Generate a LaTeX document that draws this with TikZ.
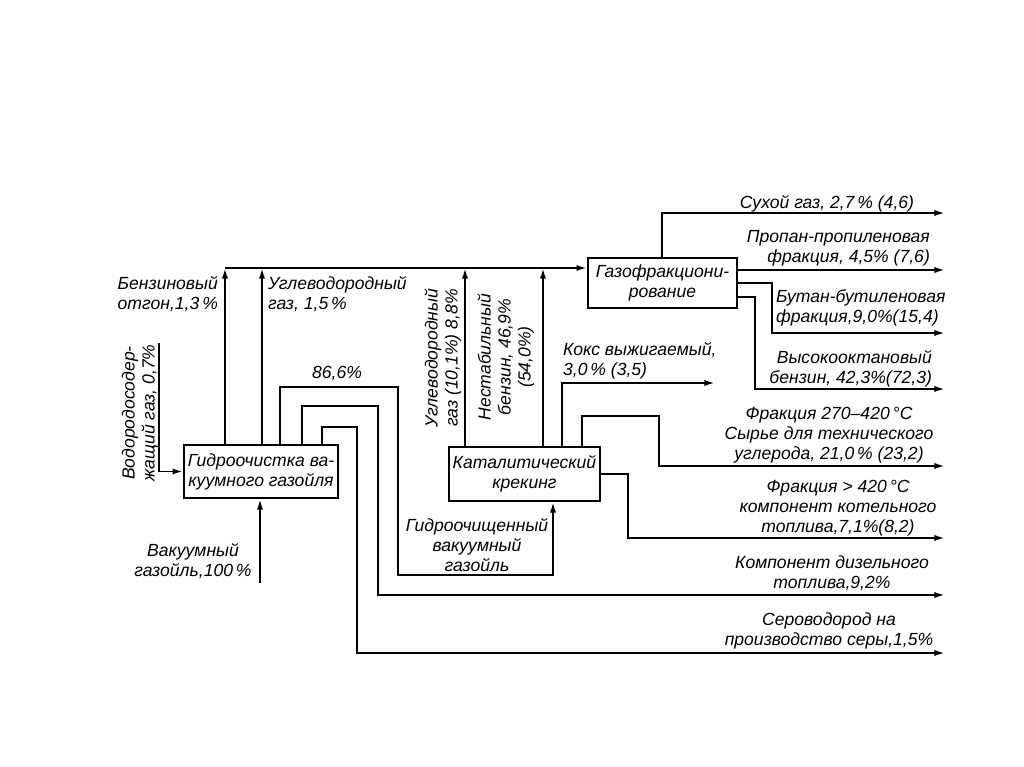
\documentclass[tikz,border=0pt]{standalone}
\usepackage{fontspec}
\setmainfont{Liberation Sans}
\usetikzlibrary{positioning}
\usetikzlibrary{arrows.meta}
\tikzset{
    procbox/.style = {rectangle, draw=black, line width=1.1pt, align=center, inner sep=2pt},
    lbl/.style = {align=center, inner sep=1pt},
    lbll/.style = {align=left, inner sep=1pt},
    lblr/.style = {align=right, inner sep=1pt},
    edgef/.style = {-{Latex[length=6pt,width=3.5pt]}, line width=1.1pt}, % flow
    edgep/.style = {line width=1.1pt}, % plain
    every picture/.style={font issue=\fontsize{10}{11.4}\itshape},
    font issue/.style={execute at begin picture={#1\selectfont}
  }
}
\begin{document}
\begin{tikzpicture}[x={(0.02cm,0)},y={(0,-0.02cm)}]
\useasboundingbox (0,0) rectangle (1024,767);
%
\node[procbox, minimum width=3.08cm, minimum height=1.06cm] at (261,471.5) (hydro) {Гидроочистка ва-\\куумного газойля};
\node[procbox, minimum width=2.98cm, minimum height=1.08cm] at (524.5,474) (cat) {Каталитический\\крекинг};
\node[procbox, minimum width=2.98cm, minimum height=1.0cm] at (662.5,283) (gasfr) {Газофракциони-\\рование};
%
\coordinate (tbo) at (225,268);
\coordinate (tug) at (262,268);
\coordinate (tgu) at (465,268);
\coordinate (tbz) at (543,268);
\coordinate (h2in) at (159,343);
\coordinate (vgin) at (260,583);
\coordinate (c86a) at (280,387);
\coordinate (c86b) at (398,575);
\coordinate (c86c) at (553,575);
\coordinate (cda) at (302,406);
\coordinate (cdb) at (378,595);
\coordinate (dies) at (945,595);
\coordinate (cha) at (322,427);
\coordinate (chb) at (357,653);
\coordinate (h2s) at (945,653);
\coordinate (cka) at (562,383);
\coordinate (coke) at (715,383);
\coordinate (cfa) at (582,416);
\coordinate (cfb) at (659,466);
\coordinate (fr1) at (945,466);
\coordinate (cga) at (628,538);
\coordinate (fr2) at (945,538);
\coordinate (cdry) at (662,213);
\coordinate (dry) at (945,213);
\coordinate (prop) at (945,270);
\coordinate (cbu) at (772,333);
\coordinate (but) at (945,333);
\coordinate (choa) at (755,297);
\coordinate (cho) at (755,389);
\coordinate (hioc) at (945,389);
%
\draw[edgef] (hydro.north -| tbo) -- (tbo);
\draw[edgef] (hydro.north -| tug) -- (tug);
\draw[edgef] (cat.north -| tgu) -- (tgu);
\draw[edgef] (cat.north -| tbz) -- (tbz);
\draw[edgef] (tbo) -- (gasfr.west |- tbo);
\draw[edgef] (h2in) |- (hydro.west);
\draw[edgef] (vgin) -- (hydro.south -| vgin);
\draw[edgef] (hydro.north -| c86a) -- (c86a) -| (c86b) -- (c86c) -- (cat.south -| c86c);
\draw[edgef] (hydro.north -| cda) -- (cda) -| (cdb) -- (dies);
\draw[edgef] (hydro.north -| cha) -- (cha) -| (chb) -- (h2s);
\draw[edgef] (cat.north -| cka) -- (cka) -- (coke);
\draw[edgef] (cat.north -| cfa) -- (cfa) -| (cfb) -- (fr1);
\draw[edgef] (cat.east) -| (cga) -- (fr2);
\draw[edgef] (gasfr.north -| cdry) -- (cdry) -- (dry);
\draw[edgef] (gasfr.east |- prop) -- (prop);
\draw[edgef] (gasfr.east) -| (cbu) -- (but);
\draw[edgef] (gasfr.east |- choa) -| (cho) -- (hioc);
%
\node[lbl] at (827,204) (lbdry) {Сухой газ, 2,7\,\% (4,6)};
\node[lblr, anchor=east] at (932,248) (lbprop) {Пропан-пропиленовая\\фракция, 4,5\% (7,6)};
\node[lbll, anchor=west] at (774,308) (lbbut) {Бутан-бутиленовая\\фракция,9,0\%(15,4)};
\node[lblr, anchor=east] at (934,369) (lbhioc) {Высокооктановый\\бензин, 42,3\%(72,3)};
\node[lbl] at (829,435) (lbfr1) {Фракция 270--420\,°C\\Сырье для технического\\углерода, 21,0\,\% (23,2)};
\node[lbl] at (838,508) (lbfr2) {Фракция > 420\,°C\\компонент котельного\\топлива,7,1\%(8,2)};
\node[lbl] at (832,573) (lbdies) {Компонент дизельного\\топлива,9,2\%};
\node[lbl] at (829,631) (lbh2s) {Сероводород на\\производство серы,1,5\%};
\node[lbll, anchor=west] at (561,361) (lbcoke) {Кокс выжигаемый,\\3,0\,\% (3,5)};
\node[lbll, anchor=east] at (220,294) (lbbo) {Бензиновый\\отгон,1,3\,\%};
\node[lbll, anchor=west] at (266,294) (lbug) {Углеводородный\\газ, 1,5\,\%};
\node[lbl] at (337,373) (lb86) {86,6\%};
\node[lbl, rotate=90] at (140,413) (lbh2) {Водородосодер-\\жащий газ, 0,7\%};
\node[lbl, rotate=90] at (443,358) (lbgu) {Углеводородный\\газ (10,1\%) 8,8\%};
\node[lbl, rotate=90] at (506,357) (lbbz) {Нестабильный\\бензин, 46,9\%\\(54,0\%)};
\node[lbl] at (193,561) (lbvg) {Вакуумный\\газойль,100\,\%};
\node[lbl] at (477,545) (lbhvg) {Гидроочищенный\\вакуумный\\газойль};
\end{tikzpicture}
\end{document}
